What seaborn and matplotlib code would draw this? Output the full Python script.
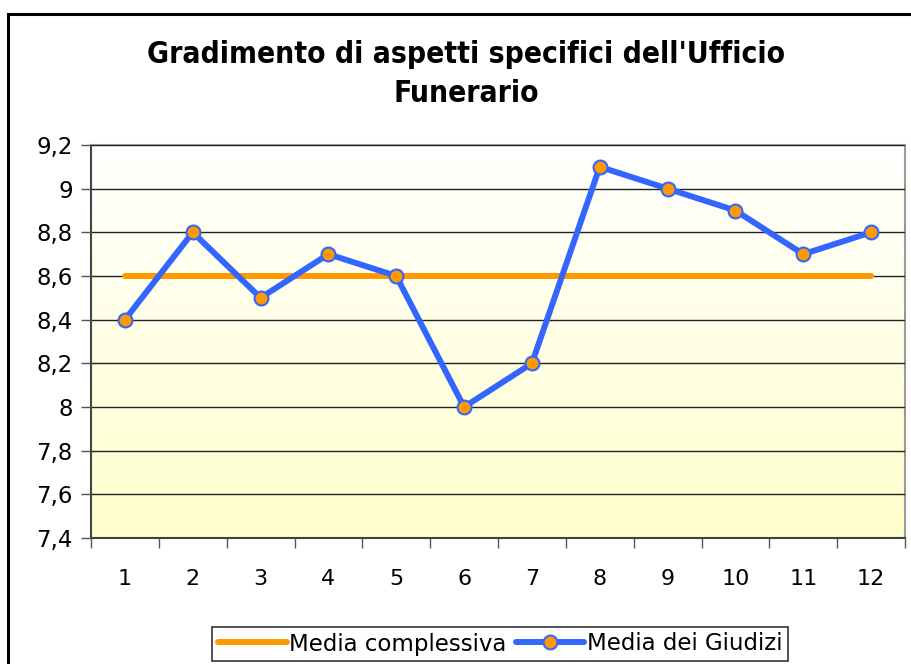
import numpy as np
import pandas as pd
import matplotlib
matplotlib.use('Agg')
import matplotlib.pyplot as plt
import seaborn as sns
from matplotlib.ticker import FuncFormatter, FixedLocator
from matplotlib.colors import LinearSegmentedColormap
from matplotlib.patches import Rectangle

# Dati
aspetti = [1, 2, 3, 4, 5, 6, 7, 8, 9, 10, 11, 12]
media_giudizi = [8.4, 8.8, 8.5, 8.7, 8.6, 8.0, 8.2, 9.1, 9.0, 8.9, 8.7, 8.8]
media_complessiva = [8.6] * 12

titolo = "Gradimento di aspetti specifici dell'Ufficio\nFunerario"

sns.set_theme(style='white')
plt.rcParams['font.family'] = ['DejaVu Sans']
plt.rcParams['text.color'] = 'black'

df = pd.DataFrame({'aspetto': aspetti,
                   'Media complessiva': media_complessiva,
                   'Media dei Giudizi': media_giudizi})

fig = plt.figure(figsize=(9.11, 6.64), dpi=100)
ax = fig.add_axes([91 / 911, 1 - 538 / 664, 814 / 911, 393 / 664])

# cornice del grafico
fig.patches.append(Rectangle((8 / 911, -0.1), 1.2, 1 - 14 / 664 + 0.1,
                             transform=fig.transFigure, fill=False,
                             edgecolor='black', linewidth=2.2))

# sfondo sfumato (bianco in alto, giallo chiaro in basso)
cmap = LinearSegmentedColormap.from_list('sfondo', ['#ffffff', '#ffffcc'])
grad = np.linspace(0, 1, 256).reshape(-1, 1)
ax.imshow(grad, cmap=cmap, aspect='auto', extent=[0.5, 12.5, 7.4, 9.2],
          origin='upper', zorder=0)

sns.lineplot(data=df, x='aspetto', y='Media complessiva', ax=ax,
             color='#ff9900', linewidth=4.3, solid_capstyle='round',
             label='Media complessiva', zorder=3)
sns.lineplot(data=df, x='aspetto', y='Media dei Giudizi', ax=ax,
             color='#3366ff', linewidth=4.3, marker='o', markersize=10,
             markerfacecolor='#ff9900', markeredgecolor='#3366ff',
             markeredgewidth=1.5, label='Media dei Giudizi', zorder=4)

ax.set_xlim(0.5, 12.5)
ax.set_ylim(7.4, 9.2)
ax.set_yticks(np.arange(7.4, 9.21, 0.2))
ax.yaxis.set_major_formatter(FuncFormatter(lambda v, p: f'{v:g}'.replace('.', ',')))
ax.yaxis.grid(True, color='#222222', linewidth=1)
ax.set_axisbelow(False)
for gl in ax.get_ygridlines():
    gl.set_zorder(1)

ax.xaxis.set_major_locator(FixedLocator(np.arange(0.5, 12.6, 1)))
ax.xaxis.set_major_formatter(FuncFormatter(lambda v, p: ''))
ax.xaxis.set_minor_locator(FixedLocator(aspetti))
ax.xaxis.set_minor_formatter(FuncFormatter(lambda v, p: f'{int(v)}'))
ax.tick_params(axis='x', which='major', direction='out', length=7, width=1,
               color='#555555', bottom=True)
ax.tick_params(axis='x', which='minor', length=0, labelsize=16, pad=22,
               labelcolor='black', bottom=True)
ax.tick_params(axis='y', direction='out', length=7, width=1, color='#555555',
               labelsize=16.5, left=True, labelcolor='black', pad=6)

ax.set_xlabel('')
ax.set_ylabel('')
for s in ['left', 'bottom']:
    ax.spines[s].set_color('#444444')
    ax.spines[s].set_linewidth(1.5)
for s in ['top', 'right']:
    ax.spines[s].set_color('#999999')
    ax.spines[s].set_linewidth(1.5)

fig.text(0.512, 1 - 40 / 664, titolo, ha='center', va='top', fontsize=21.5,
         fontweight='bold', linespacing=1.45, family=['DejaVu Sans'],
         fontstretch='condensed', color='black')

ax.get_legend().remove()
handles, labels = ax.get_legend_handles_labels()
leg = fig.legend(handles, labels, loc='center', ncol=2,
                 bbox_to_anchor=(500 / 911, 1 - 644 / 664),
                 fontsize=16.5, frameon=True, fancybox=False, handlelength=3.0,
                 handletextpad=0.1, columnspacing=0.4, borderpad=0.25)
leg.get_frame().set_edgecolor('black')
leg.get_frame().set_linewidth(1.2)
for t in leg.get_texts():
    t.set_color('black')

fig.savefig('out.png', dpi=100)
